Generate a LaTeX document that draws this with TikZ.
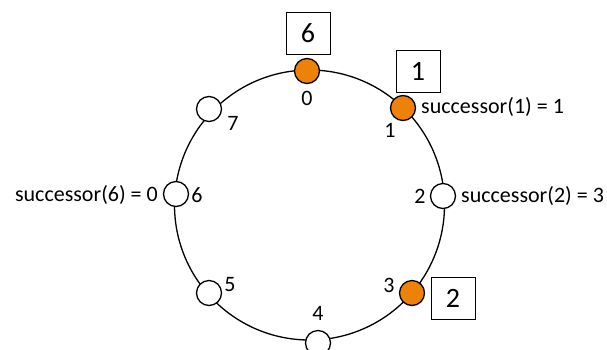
\documentclass[tikz,border=0pt]{standalone}
\usepackage{fontspec}
\setmainfont{Carlito}
\usepackage{tikz}
\usetikzlibrary{positioning}
\definecolor{ChordOrange}{HTML}{EE8208}
\definecolor{Ink}{HTML}{000000}

\begin{document}
\begin{tikzpicture}[x=1pt,y=-1pt,
  peer/.style={circle,draw=Ink,line width=1.3pt,fill=white,minimum size=25pt,inner sep=0pt},
  live/.style={peer,fill=ChordOrange},
  num/.style={inner sep=0pt,font=\fontsize{22}{26}\selectfont},
  succ/.style={inner sep=0pt,font=\fontsize{22}{26}\selectfont},
  keybox/.style={draw=Ink,line width=0.9pt,fill=white,minimum width=44pt,minimum height=42pt,inner sep=0pt,font=\fontsize{28}{33}\selectfont},
  ring/.style={draw=Ink,line width=1.3pt}
]
\useasboundingbox (0,0) rectangle (607,349);
\coordinate (centre) at (309.5,205);
\draw[ring] (centre) circle (135);

% identifiers on the ring
\node[live] (n0) at (307,71) {};
\node[live] (n1) at (403,108) {};
\node[peer] (n2) at (443,196) {};
\node[live] (n3) at (412,293) {};
\node[peer] (n4) at (318,343) {};
\node[peer] (n5) at (209,293) {};
\node[peer] (n6) at (176,194) {};
\node[peer] (n7) at (209,109) {};

\node[num] (l0) at (307,98) {0};
\node[num] (l1) at (390,130) {1};
\node[num] (l2) at (420,196) {2};
\node[num] (l3) at (389,285) {3};
\node[num] (l4) at (318,313) {4};
\node[num] (l5) at (230,285) {5};
\node[num] (l6) at (197,195) {6};
\node[num] (l7) at (233,123) {7};

% keys
\node[keybox] (k6) at (308,33.5) {6};
\node[keybox] (k1) at (418,71) {1};
\node[keybox] (k2) at (453,298) {2};

\node[succ,anchor=west] (s1) at (421,107) {successor(1) = 1};
\node[succ,anchor=west] (s2) at (461,196) {successor(2) = 3};
\node[succ,anchor=east] (s6) at (158,195) {successor(6) = 0};
\end{tikzpicture}
\end{document}
